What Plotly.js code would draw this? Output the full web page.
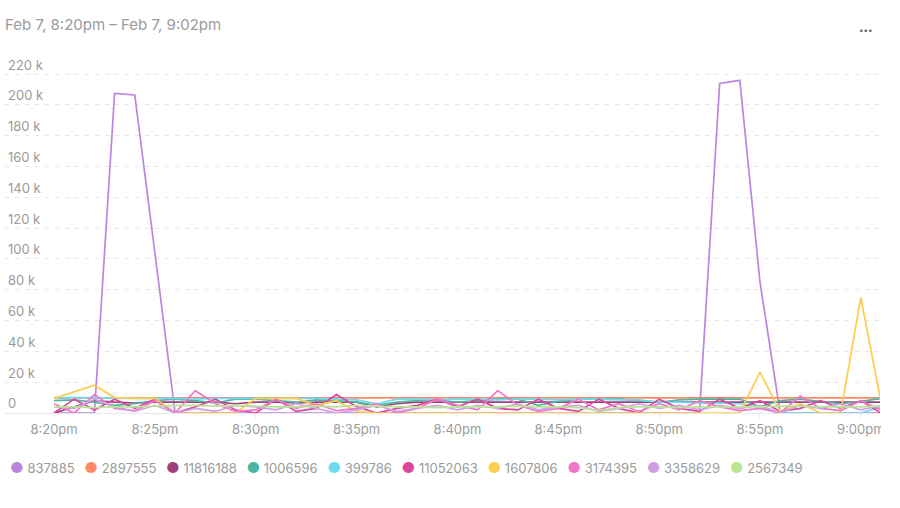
<!DOCTYPE html>
<html>
<head>
<meta charset="utf-8">
<script src="https://cdn.plot.ly/plotly-3.0.1.min.js"></script>
<style>
  html, body { margin: 0; padding: 0; background: #fff; }
  #wrap { width: 881px; height: 508px; overflow: hidden; }
  #chart { width: 900px; height: 508px; }
</style>
</head>
<body>
<div id="wrap"><div id="chart"></div></div>
<script>
const times = [
  '2024-02-07 20:20','2024-02-07 20:21','2024-02-07 20:22','2024-02-07 20:23','2024-02-07 20:24',
  '2024-02-07 20:25','2024-02-07 20:26','2024-02-07 20:27','2024-02-07 20:28','2024-02-07 20:29',
  '2024-02-07 20:30','2024-02-07 20:31','2024-02-07 20:32','2024-02-07 20:33','2024-02-07 20:34',
  '2024-02-07 20:35','2024-02-07 20:36','2024-02-07 20:37','2024-02-07 20:38','2024-02-07 20:39',
  '2024-02-07 20:40','2024-02-07 20:41','2024-02-07 20:42','2024-02-07 20:43','2024-02-07 20:44',
  '2024-02-07 20:45','2024-02-07 20:46','2024-02-07 20:47','2024-02-07 20:48','2024-02-07 20:49',
  '2024-02-07 20:50','2024-02-07 20:51','2024-02-07 20:52','2024-02-07 20:53','2024-02-07 20:54',
  '2024-02-07 20:55','2024-02-07 20:56','2024-02-07 20:57','2024-02-07 20:58','2024-02-07 20:59',
  '2024-02-07 21:00','2024-02-07 21:01'
];

const s837885  = [0,0,0,207500,206500,104000,0,0,0,0, 0,0,0,0,0,0,0,0,0,0, 0,0,0,0,0,0,0,0,0,0, 0,0,0,214000,216000,85000,0,0,0,0, 0,0];
const s2897555 = [9800,9800,9800,9800,9800,9800,9800,9800,9800,9800, 9800,9800,9800,9800,9800,9800,9800,9800,9800,9800, 9800,9800,9800,9800,9800,9800,9800,9800,9800,9800, 9800,9800,9800,9800,9800,9800,9800,9800,9800,9800, 9800,9800];
const s11816188 = [0,4000,8000,7000,6500,7000,7000,7000,7000,6000, 7000,7000,6500,7000,7000,7000,4000,6000,7000,7000, 7000,7000,7000,7000,7000,7000,7000,7000,7000,7000, 7000,7000,7000,7000,7000,7000,7000,7000,7000,7000, 7000,7000];
const s1006596 = [8000,8500,7000,5000,6000,8000,9000,8000,6500,9000, 9000,8000,7000,8500,8000,7000,5000,7000,8000,8500, 7000,8000,9000,9000,5000,7500,9000,9000,9000,8000, 7000,8500,9000,9000,9000,4000,8000,9000,7500,6000, 7500,9500];
const s399786  = [10000,10000,10000,9500,9500,9500,9500,9000,9500,9500, 9500,9500,9500,9500,9000,8500,6000,9000,9000,8500, 9000,9000,8500,9000,9000,8500,9000,9000,8500,8500, 7000,7000,6500,6500,6000,3500,0,0,0,0, 0,4000];
const s11052063 = [0,9000,2000,9000,3000,9000,0,4000,9000,2000, 0,9000,1000,3000,12000,4000,0,3000,5000,9000, 4000,9000,3000,2000,9000,3000,1000,9000,3000,0, 9000,3000,1000,9000,3000,8000,1000,3000,8000,3000, 8000,0];
const s1607806 = [9500,13500,18000,10000,9500,9500,0,0,0,0, 9500,9500,9500,5000,8000,1000,0,0,0,0, 0,0,0,0,0,0,0,0,0,0, 0,0,0,0,0,26500,1000,6000,0,0, 75000,7000];
const s3174395 = [6000,0,12000,3000,1500,8000,0,14500,6000,1000, 2000,9000,3000,6000,1500,3000,6000,0,3000,9000, 5000,2000,14500,5000,1000,3000,9000,2000,6000,1000, 6000,2000,8000,4000,1500,3000,0,11000,3000,1500, 8000,2000];
const s3358629 = [4000,3000,9000,4000,1000,5000,0,3000,1000,5000, 4000,2000,6000,3000,0,2000,5000,1000,3000,5000, 2000,5000,3000,6000,2000,4000,5000,1000,3000,6000, 3000,5000,2000,5000,3000,5000,0,5000,3000,6000, 2000,5000];
const s2567349 = [4000,4000,3500,4000,4000,4500,5000,5000,4500,5000, 4500,4000,4000,4500,4000,5000,4500,4000,4000,3500, 4000,4000,4000,4500,4000,4000,3500,1500,3500,4000, 4000,3500,4000,4000,4000,4000,4500,4500,4000,4000, 4000,4500];

const seriesNames  = ['837885','2897555','11816188','1006596','399786','11052063','1607806','3174395','3358629','2567349'];
const seriesValues = [s837885, s2897555, s11816188, s1006596, s399786, s11052063, s1607806, s3174395, s3358629, s2567349];
const seriesColors = ['#bb86de','#ff8a65','#a2407e','#4db6a0','#6fd8f2','#d9479f','#ffcc4d','#ef78c6','#cf9fe6','#b9e592'];

const xTickVals = ['2024-02-07 20:20','2024-02-07 20:25','2024-02-07 20:30','2024-02-07 20:35','2024-02-07 20:40','2024-02-07 20:45','2024-02-07 20:50','2024-02-07 20:55','2024-02-07 21:00'];
const xTickText = ['8:20pm','8:25pm','8:30pm','8:35pm','8:40pm','8:45pm','8:50pm','8:55pm','9:00pm'];
const yTickVals = [0,20000,40000,60000,80000,100000,120000,140000,160000,180000,200000,220000];
const yTickText = ['0','20 k','40 k','60 k','80 k','100 k','120 k','140 k','160 k','180 k','200 k','220 k'];

const titleText = 'Feb 7, 8:20pm \u2013 Feb 7, 9:02pm';

const traces = seriesNames.map((name, i) => ({
  type: 'scatter',
  mode: 'lines',
  name: name,
  x: times,
  y: seriesValues[i],
  line: { color: seriesColors[i], width: 1.7 },
  showlegend: false,
  hoverinfo: 'x+y+name'
}));

// Legend as one rich-text line
const legendText = seriesNames.map((n, i) =>
  '<span style="color:' + seriesColors[i] + ';font-size:15px">\u25CF</span>\u00a0' + n
).join('\u00a0\u00a0\u2009');

const W = 900;
const layout = {
  width: W,
  height: 508,
  margin: { l: 5, r: 20, t: 48, b: 95 },
  paper_bgcolor: '#ffffff',
  plot_bgcolor: '#ffffff',
  font: { family: 'Inter, "Noto Sans", sans-serif', size: 13, color: '#9b9b9b' },
  title: {
    text: titleText,
    xref: 'container', yref: 'container',
    x: 5 / W, xanchor: 'left',
    y: 1 - 25 / 508, yanchor: 'middle',
    font: { family: 'Inter, "Noto Sans", sans-serif', size: 15, color: '#9b9b9b' }
  },
  xaxis: {
    type: 'date',
    range: ['2024-02-07 20:17:34', '2024-02-07 21:00:57'],
    tickvals: xTickVals,
    ticktext: xTickText,
    showgrid: false,
    zeroline: false,
    showline: true,
    linecolor: '#e8e8e8',
    linewidth: 1,
    ticks: 'outside',
    ticklen: 4,
    tickcolor: '#e8e8e8',
    tickfont: { size: 13, color: '#9b9b9b' },
    fixedrange: true
  },
  yaxis: {
    range: [0, 237000],
    tickvals: yTickVals,
    ticktext: yTickText,
    ticklabelposition: 'inside top',
    showgrid: true,
    gridcolor: '#e6e6e6',
    griddash: '4px,6px',
    gridwidth: 1,
    zeroline: false,
    showline: false,
    ticks: '',
    tickfont: { size: 13, color: '#9b9b9b' },
    fixedrange: true
  },
  annotations: [
    {
      xref: 'paper', yref: 'paper',
      x: 3 / 875, y: (413 - 467) / 365,
      xanchor: 'left', yanchor: 'middle',
      showarrow: false,
      align: 'left',
      text: legendText,
      font: { size: 13, color: '#9b9b9b' }
    },
    {
      xref: 'paper', yref: 'paper',
      x: (866 - 5) / 875, y: (413 - 30) / 365,
      xanchor: 'center', yanchor: 'middle',
      showarrow: false,
      text: '\u2022\u2022\u2022',
      font: { size: 8, color: '#666666' }
    }
  ],
  showlegend: false
};

Plotly.newPlot('chart', traces, layout, { displayModeBar: false, staticPlot: true });
</script>
</body>
</html>
